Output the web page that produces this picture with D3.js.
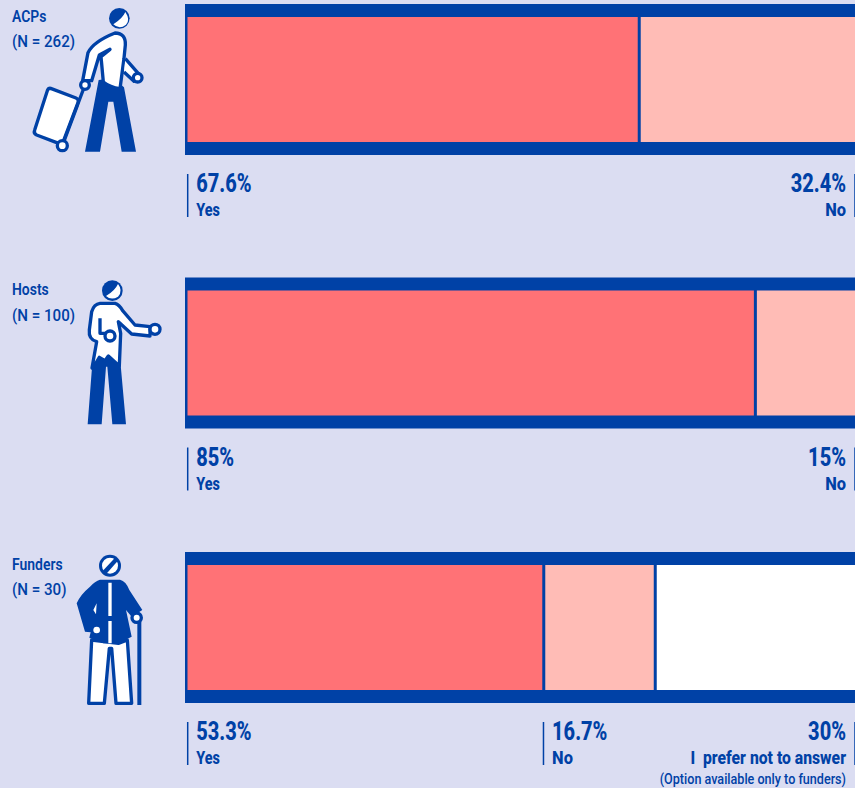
<!DOCTYPE html>
<html><head><meta charset="utf-8">
<script src="https://cdn.jsdelivr.net/npm/d3@7"></script>
<style>html,body{margin:0;padding:0;background:#dbddf2;overflow:hidden}svg{display:block}text{font-family:"Roboto",sans-serif;fill:#0041a6;white-space:pre}</style>
</head><body><div id="c"></div>
<script>
const groups = ["ACPs","Hosts","Funders"];
const sampleLabels = ["(N = 262)","(N = 100)","(N = 30)"];
const yesValues = [67.6,85,53.3];
const noValues = [32.4,15,16.7];
const preferValues = [0,0,30];
const valueLabels = [["67.6%","32.4%"],["85%","15%"],["53.3%","16.7%","30%"]];
const answerNames = ["Yes","No","I  prefer not to answer"];
const note = "(Option available only to funders)";
const colours = ["#ff7276","#ffbcb6","#ffffff"];
const navy = "#0041a6", bg = "#dbddf2";
const W=855,H=788;
const svg=d3.select("#c").append("svg").attr("width",W).attr("height",H);
svg.append("rect").attr("width",W).attr("height",H).attr("fill",bg);
const x=d3.scaleLinear().domain([0,100]).range([187.5,855]);
const rowTop=d3.scaleOrdinal().domain(groups).range([4,277.5,552]);
const rowH=151, band=13;
const answerStretch=[0.82,0.94,0.9];
function T(G,str,px,py,size,weight,sx,anchor){
  return G.append("text").attr("transform",`translate(${px},${py}) scale(${sx},1)`)
    .attr("text-anchor",anchor||"start").attr("font-size",size).attr("font-weight",weight).text(str);
}
groups.forEach((g,i)=>{
  const top=rowTop(g);
  const G=svg.append("g").attr("class","row");
  G.append("rect").attr("x",185).attr("y",top).attr("width",W-185).attr("height",rowH).attr("fill",navy);
  const vals=[yesValues[i],noValues[i],preferValues[i]].filter(v=>v>0);
  let c=0;
  const segs=vals.map((v,k)=>{const s={k,v,a:c,b:c+v};c+=v;return s;});
  G.selectAll("rect.seg").data(segs).join("rect").attr("class","seg")
    .attr("x",d=>x(d.a)+(d.k?2:0)).attr("y",top+band)
    .attr("width",d=>Math.max(0,x(d.b)-x(d.a)-(d.k?2:0)-(d.k<segs.length-1?1:0)))
    .attr("height",rowH-2*band).attr("fill",d=>colours[d.k]);
  T(G,g,12,top+17.5,17,600,0.82);
  T(G,sampleLabels[i],12,top+43,17,500,0.89);
  segs.forEach((s,k)=>{
    const last=k===segs.length-1 && k>0;
    const lx= last? W-9 : x(s.a)+8.8;
    const tick= last? W : x(s.a)+0.2;
    G.append("line").attr("x1",tick).attr("x2",tick).attr("y1",top+170).attr("y2",top+213).attr("stroke",navy).attr("stroke-width",1.5);
    const anchor=last?"end":"start";
    T(G,valueLabels[i][k],lx,top+188,25,800,0.8,anchor);
    T(G,answerNames[k],lx,top+212,17.5,800,answerStretch[k],anchor);
    if(k===2) T(G,note,lx,top+232,14,500,0.9,anchor);
  });
});
// decorative figures, traced in 3x units
const icon=(dy)=>svg.append("g").attr("transform",`translate(0,${dy}) scale(${1/3})`);
const sw=10;
function P(g,d,f,s,w){return g.append("path").attr("d",d).attr("fill",f).attr("stroke",s||"none").attr("stroke-width",w||0).attr("stroke-linejoin","round");}
function C(g,cx,cy,r,f,s,w){return g.append("circle").attr("cx",cx).attr("cy",cy).attr("r",r).attr("fill",f).attr("stroke",s||"none").attr("stroke-width",w||0);}
const W0="#fff";
{const g=icon(0);
 C(g,358,55,31,navy);
 P(g,"M340 73Q368 55 376 36Q392 60 378 74Q358 90 340 73Z",W0);
 P(g,"M296 240L255 455H300L325 305H340L365 455H408L372 262L340 235Z",navy);
 P(g,"M345 99Q378 100 376 135L372 175L360 266Q330 262 310 246L303 170L330 148L298 165L275 242H248L264 158Q280 125 345 99Z",W0,navy,sw);
 P(g,"M376 176L418 224L402 244L372 216",W0,navy,sw);
 C(g,413,233,13,W0,navy,sw);
 P(g,"M152 265L228 294Q238 298 234 308L190 424Q186 434 176 430L110 405Q100 400 104 390L142 272Q145 264 152 265Z",W0,navy,sw);
 P(g,"M255 255L187 437","none",navy,sw);
 C(g,255,255,13,W0,navy,sw);
 C(g,187,437,15,W0,navy,sw);
}
{const g=icon(270);
 C(g,337,62,31,navy);
 P(g,"M318 78Q345 62 354 42Q370 62 354 80Q334 92 318 78Z",W0);
 P(g,"M276 292L263 463H305L318 290H322L337 463H378L362 285L355 250H290Z",navy);
 P(g,"M300 100H345Q358 104 368 122L405 165L450 170V198L395 192L355 155L362 190L358 288L325 258L315 272L298 262L285 284L276 294L290 215Q265 208 268 180L275 125Q282 102 300 100Z",W0,navy,sw);
 P(g,"M300 145V190H325","none",navy,sw);
 C(g,330,198,15,W0,navy,sw);
 C(g,465,178,15,W0,navy,sw);
}
{const g=icon(545);
 C(g,330,62,33,navy);
 C(g,330,62,24,W0);
 P(g,"M308 78L345 38L355 46L318 88Z",navy);
 P(g,"M275 285L266 475H313L328 310H335L348 475H395L382 285L355 295Z",W0,navy,sw);
 P(g,"M300 104H360Q378 108 388 135L427 195L395 215L378 195L395 275L355 295L310 295L268 278L272 262L255 260L230 175Q240 150 270 125Q285 108 300 104Z",navy);
 P(g,"M325 113H335V213H325ZM325 228H335V295H325ZM290 175L280 195L288 208Z",W0);
 C(g,290,255,10,W0);
 C(g,410,218,14,W0,navy,sw);
 P(g,"M412 230H424V480H412Z",navy);
}
</script></body></html>
